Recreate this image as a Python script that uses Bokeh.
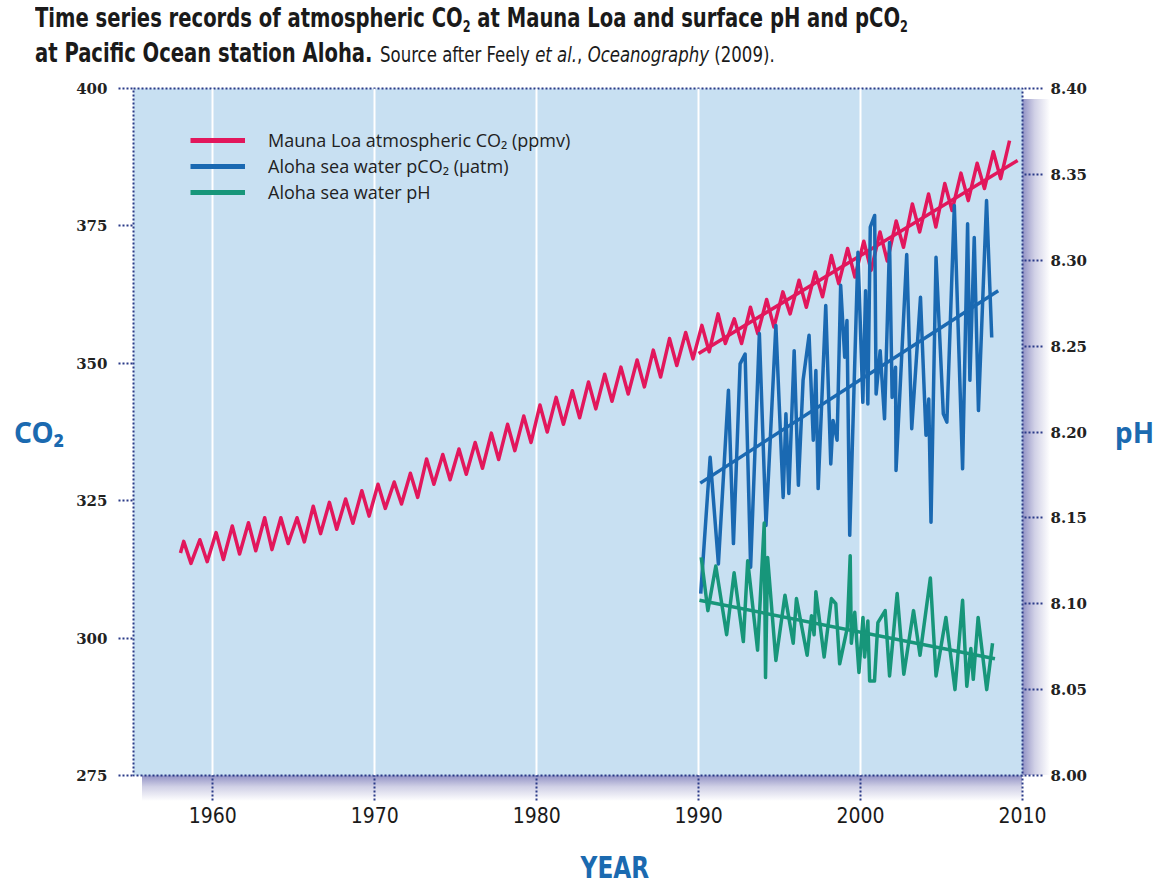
from bokeh.plotting import figure
from bokeh.models import Range1d, LinearAxis, FixedTicker, Legend, LegendItem, PrintfTickFormatter, Div
from bokeh.layouts import column
from bokeh.embed import file_html
from bokeh.resources import INLINE

# ---------------- data ----------------
co2_years = list(range(1958, 2010))
co2_start = (1958.0, 315.5)
co2_peak = [317.6, 317.9, 319.2, 320.4, 321.0, 321.9, 321.9, 321.9, 324.0, 324.7,
            325.3, 326.8, 328.0, 328.4, 330.0, 332.6, 333.4, 334.4, 335.6, 337.3,
            338.9, 340.4, 342.4, 343.8, 345.0, 346.6, 348.0, 349.3, 350.6, 352.4,
            354.5, 355.6, 356.9, 359.0, 358.1, 360.2, 361.6, 363.0, 365.1, 366.6,
            369.6, 370.9, 372.2, 373.9, 375.9, 379.0, 380.8, 382.7, 384.6, 386.4,
            388.5, 390.5]
co2_trough = [313.6, 313.9, 314.3, 315.3, 315.9, 316.1, 317.2, 317.5, 319.0, 319.8,
              320.9, 322.2, 323.6, 324.4, 325.6, 328.0, 328.8, 329.8, 330.9, 332.5,
              334.1, 335.6, 337.5, 338.9, 340.1, 341.7, 343.1, 344.4, 345.7, 347.5,
              349.6, 350.8, 352.1, 353.6, 353.6, 355.4, 356.6, 359.0, 360.2, 362.1,
              364.5, 365.7, 366.9, 368.6, 371.1, 373.9, 374.8, 377.8, 379.6, 381.8,
              383.6]
co2_trend_x = [1990.0, 2009.7]
co2_trend_y = [351.8, 386.9]

pco2_x = [1990.13, 1990.71, 1991.22, 1991.84, 1992.15, 1992.56, 1992.87, 1993.21, 1993.75, 1994.16,
          1994.77, 1995.22, 1995.39, 1995.57, 1995.90, 1996.16, 1996.45, 1996.82, 1997.08, 1997.24,
          1997.38, 1997.85, 1998.16, 1998.30, 1998.55, 1998.77, 1999.02, 1999.16, 1999.33, 1999.84,
          2000.14, 2000.31, 2000.45, 2000.60, 2000.87, 2000.96, 2001.21, 2001.48, 2001.79, 2001.95,
          2002.16, 2002.19, 2002.85, 2003.16, 2003.70, 2004.04, 2004.21, 2004.35, 2004.66, 2005.11,
          2005.33, 2005.79, 2006.30, 2006.61, 2006.75, 2007.02, 2007.28, 2007.78, 2008.10]
pco2_y = [308.1, 332.9, 313.5, 345.1, 317.2, 349.9, 351.7, 312.9, 355.4, 320.5,
          356.9, 325.6, 340.8, 326.3, 352.3, 327.8, 346.9, 355.1, 336.0, 348.7,
          327.2, 360.5, 331.7, 339.6, 336.0, 364.2, 351.1, 357.8, 318.7, 370.2,
          342.9, 363.2, 342.6, 374.8, 376.9, 344.4, 352.3, 339.9, 372.0, 343.8,
          349.3, 330.5, 369.8, 338.1, 362.0, 336.9, 343.5, 321.1, 369.3, 340.8,
          339.3, 378.7, 330.8, 375.4, 346.9, 372.9, 341.4, 379.6, 354.7]
pco2_trend_x = [1990.1, 2008.5]
pco2_trend_y = [328.2, 363.2]

ph_x = [1990.16, 1990.57, 1991.06, 1991.73, 1992.19, 1992.76, 1993.03, 1993.64, 1994.05, 1994.13,
        1994.26, 1994.77, 1995.33, 1995.84, 1996.04, 1996.70, 1996.97, 1997.13, 1997.24, 1997.75,
        1998.20, 1998.47, 1998.71, 1999.18, 1999.36, 1999.43, 1999.64, 1999.90, 2000.15, 2000.25,
        2000.45, 2000.56, 2000.86, 2001.07, 2001.52, 2001.79, 2002.26, 2002.67, 2003.27, 2003.67,
        2004.31, 2004.66, 2005.27, 2005.83, 2006.30, 2006.56, 2006.81, 2006.96, 2007.26, 2007.79,
        2008.15]
ph_y = [8.127, 8.096, 8.122, 8.082, 8.118, 8.078, 8.125, 8.073, 8.147, 8.057,
        8.127, 8.067, 8.105, 8.077, 8.103, 8.070, 8.093, 8.082, 8.107, 8.069,
        8.103, 8.100, 8.065, 8.086, 8.128, 8.077, 8.095, 8.060, 8.092, 8.069,
        8.090, 8.055, 8.055, 8.089, 8.096, 8.058, 8.106, 8.059, 8.096, 8.070,
        8.115, 8.058, 8.092, 8.050, 8.102, 8.052, 8.074, 8.056, 8.092, 8.050,
        8.077]
ph_trend_x = [1990.05, 2008.3]
ph_trend_y = [8.102, 8.068]

x_ticks = [1960, 1970, 1980, 1990, 2000, 2010]
grid_years = [1960, 1970, 1980, 1990, 2000]
co2_ticks = [275, 300, 325, 350, 375, 400]
ph_ticks = [8.00, 8.05, 8.10, 8.15, 8.20, 8.25, 8.30, 8.35, 8.40]

series_names = ["Mauna Loa atmospheric CO\u2082 (ppmv)",
                "Aloha sea water pCO\u2082 (\u00b5atm)",
                "Aloha sea water pH"]

# build the seasonal CO2 zigzag (peak in spring, trough in autumn)
co2_x = [co2_start[0]]
co2_y = [co2_start[1]]
for i, yr in enumerate(co2_years):
    co2_x.append(yr + 0.2)
    co2_y.append(co2_peak[i])
    if i < len(co2_trough):
        co2_x.append(yr + 0.65)
        co2_y.append(co2_trough[i])

PINK = "#e2175c"
BLUE = "#1a69b2"
GREEN = "#17967a"
NAVY = "#2a3a88"
LABEL_BLUE = "#1b6ab0"
NARROW = "Liberation Sans Narrow, DejaVu Sans Condensed, sans-serif"

p = figure(frame_width=889, frame_height=687,
           x_range=Range1d(1955.1, 2010.0), y_range=Range1d(275, 400),
           output_backend="svg", toolbar_location=None,
           min_border_left=133, min_border_right=134,
           min_border_top=22, min_border_bottom=77)
p.extra_y_ranges = {"ph": Range1d(8.0, 8.4)}

p.background_fill_color = "#c8e0f2"
p.border_fill_alpha = 0
# soft drop shadow to the right of and below the plot frame (CSS background of the figure)
SH = "rgba(100,100,172,0.72)"
SHM = "rgba(100,100,172,0.3)"
SH0 = "rgba(100,100,172,0)"
p.styles = {
    "background-color": "white",
    "background-image": (f"linear-gradient(to right, {SH}, {SHM} 45%, {SH0}), "
                         f"linear-gradient(to bottom, {SH}, {SHM} 45%, {SH0}), "
                         f"radial-gradient(closest-side at 0 0, {SH}, {SH0})"),
    "background-size": "28px 676px, 880px 26px, 56px 52px",
    "background-position": "1022px 33px, 142px 709px, 994px 683px",
    "background-repeat": "no-repeat",
}
p.outline_line_color = NAVY
p.outline_line_dash = "2 2"
p.outline_line_width = 2

p.ygrid.grid_line_color = None
p.xgrid.ticker = FixedTicker(ticks=grid_years)
p.xgrid.grid_line_color = "white"
p.xgrid.grid_line_width = 2

# bottom axis
xa = p.xaxis[0]
xa.ticker = FixedTicker(ticks=x_ticks)
xa.axis_line_color = None
xa.major_tick_in = 0
xa.major_tick_out = 25
xa.major_tick_line_color = NAVY
xa.major_tick_line_dash = "2 2"
xa.major_tick_line_width = 2
xa.minor_tick_line_color = None
xa.major_label_standoff = 6
xa.major_label_text_font = NARROW
xa.major_label_text_font_size = "21px"
xa.major_label_text_color = "#1a1a1a"

# left axis
ya = p.yaxis[0]
ya.ticker = FixedTicker(ticks=co2_ticks)
ya.axis_line_color = None
ya.major_tick_in = 0
ya.major_tick_out = 15
ya.major_tick_line_color = NAVY
ya.major_tick_line_dash = "2 2"
ya.major_tick_line_width = 2
ya.minor_tick_line_color = None
ya.major_label_standoff = 11
ya.major_label_text_font = "DejaVu Serif"
ya.major_label_text_font_style = "bold"
ya.major_label_text_font_size = "15px"
ya.major_label_text_color = "#222222"
ya.axis_label = "CO\u2082"
ya.axis_label_orientation = "horizontal"
ya.axis_label_standoff = 9
ya.axis_label_text_font = "Noto Sans"
ya.axis_label_text_font_style = "bold"
ya.axis_label_text_font_size = "28px"
ya.axis_label_text_color = LABEL_BLUE

# right axis (pH)
ra = LinearAxis(y_range_name="ph", ticker=FixedTicker(ticks=ph_ticks),
                formatter=PrintfTickFormatter(format="%.2f"))
ra.axis_line_color = None
ra.major_tick_in = 0
ra.major_tick_out = 20
ra.major_tick_line_color = NAVY
ra.major_tick_line_dash = "2 2"
ra.major_tick_line_width = 2
ra.minor_tick_line_color = None
ra.major_label_standoff = 8
ra.major_label_text_font = "DejaVu Serif"
ra.major_label_text_font_style = "bold"
ra.major_label_text_font_size = "15px"
ra.major_label_text_color = "#222222"
ra.axis_label = "pH"
ra.axis_label_orientation = "horizontal"
ra.axis_label_standoff = 25
ra.axis_label_text_font = "Noto Sans"
ra.axis_label_text_font_style = "bold"
ra.axis_label_text_font_size = "28px"
ra.axis_label_text_color = LABEL_BLUE
p.add_layout(ra, "right")

# series
p.line(co2_x, co2_y, line_color=PINK, line_width=3.5, line_join="round")
p.line(co2_trend_x, co2_trend_y, line_color=PINK, line_width=3.5)
p.line(pco2_x, pco2_y, line_color=BLUE, line_width=3.5, line_join="round")
p.line(pco2_trend_x, pco2_trend_y, line_color=BLUE, line_width=3.5)
p.line(ph_x, ph_y, line_color=GREEN, line_width=3.5, line_join="round", y_range_name="ph")
p.line(ph_trend_x, ph_trend_y, line_color=GREEN, line_width=3.5, y_range_name="ph")

# legend (off-range proxy renderers drawn with thicker lines)
lg = []
for name, col in zip(series_names, [PINK, BLUE, GREEN]):
    r = p.line([1900, 1901], [0, 0], line_color=col, line_width=5)
    lg.append(LegendItem(label=name, renderers=[r]))
legend = Legend(items=lg, location=(57, 571), padding=0, margin=0, spacing=2,
                glyph_width=55, glyph_height=20, label_height=20, label_standoff=23,
                background_fill_alpha=0, border_line_alpha=0,
                label_text_font="Open Sans", label_text_font_size="18px",
                label_text_color="#222222")
p.add_layout(legend)

FONT_CSS = "font-family:'Liberation Sans Narrow','DejaVu Sans Condensed',sans-serif;"
sub = '<sub style="font-size:15px;line-height:0;vertical-align:-5px">2</sub>'
title_html = (
    '<div style="padding:3px 0 0 35px;">'
    '<div style="' + FONT_CSS + 'color:#1a1a1a;line-height:30px;white-space:nowrap;'
    'transform:scaleX(0.837);transform-origin:0 0;">'
    '<b style="font-size:26px">Time series records of atmospheric CO' + sub +
    ' at Mauna Loa and surface pH and pCO' + sub + '</b><br>'
    '<b style="font-size:26px">at Pacific Ocean station Aloha.</b>'
    '<span style="font-size:22px;margin-left:9px">Source after Feely <i>et al.</i>, <i>Oceanography</i> (2009).</span>'
    '</div></div>')
title_div = Div(text=title_html, width=1156, height=66, margin=0)

year_div = Div(text='<div style="box-sizing:border-box;width:1156px;padding-left:74px;text-align:center;">'
                    '<span style="display:inline-block;' + FONT_CSS +
                    'font-weight:bold;font-size:30px;line-height:31px;color:#1b6ab0;'
                    'transform:scaleX(0.86);">YEAR</span></div>',
               width=1156, height=31, margin=0)

layout = column(title_div, p, year_div, spacing=0)
open("out.html", "w").write(file_html(layout, INLINE))
